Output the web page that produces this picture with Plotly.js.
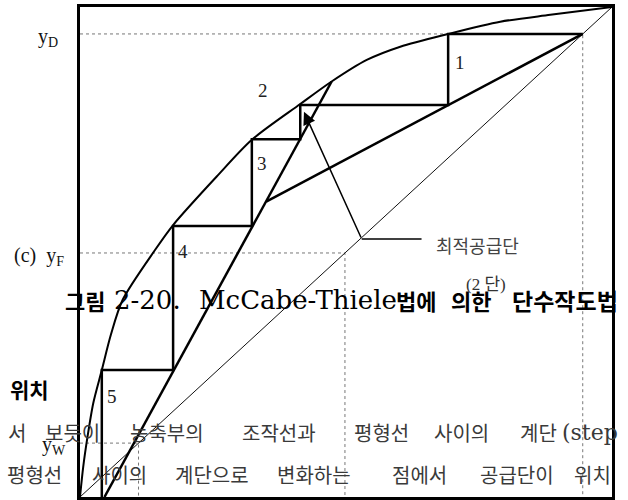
<!DOCTYPE html>
<html>
<head>
<meta charset="utf-8">
<script src="https://cdn.plot.ly/plotly-3.0.1.min.js"></script>
<style>
  html, body { margin: 0; padding: 0; background: #fff; }
  #chart { width: 628px; height: 500px; }
</style>
</head>
<body>
<div id="chart"></div>
<script>
// McCabe-Thiele diagram (mole fractions, 0..1 on both axes)

// equilibrium curve
const eqX = [0, 0.006, 0.014, 0.025, 0.041, 0.058, 0.080, 0.141, 0.175, 0.257, 0.323, 0.414, 0.473, 0.539, 0.602, 0.692, 0.790, 0.884, 1.0];
const eqY = [0, 0.061, 0.122, 0.192, 0.259, 0.331, 0.402, 0.504, 0.555, 0.654, 0.729, 0.802, 0.848, 0.892, 0.919, 0.945, 0.970, 0.984, 1.0];

// 45-degree line
const diagX = [0, 1];
const diagY = [0, 1];

// compositions
const xD = 0.945;
const xF = 0.498;
const xW = 0.110;

// operating lines
const rectX = [0.945, 0.350];
const rectY = [0.945, 0.603];
const stripX = [0.046, 0.473];
const stripY = [0.000, 0.848];

// stage construction (staircase)
const stepX = [0.945, 0.692, 0.692, 0.414, 0.414, 0.323, 0.323, 0.175, 0.175, 0.041, 0.041];
const stepY = [0.945, 0.945, 0.800, 0.800, 0.730, 0.730, 0.553, 0.553, 0.259, 0.259, 0.000];

// stage numbers
const stageLabels = ['1', '2', '3', '4', '5'];
const stageX = [0.714, 0.344, 0.342, 0.194, 0.060];
const stageY = [0.886, 0.829, 0.680, 0.502, 0.206];

// optimum feed stage pointer: tip, elbow, end of leader
const feedTip = [0.421, 0.786];
const leaderX = [0.5295, 0.642];
const leaderY = [0.5265, 0.5265];

// dotted guides to y_D, y_F, y_W
const guideX = [0, xD, xD, null, 0, xF, xF, null, 0, xW, xW];
const guideY = [xD, xD, 0, null, xF, xF, 0, null, xW, xW, 0];

// plot box in pixels
const L = 80, R = 612, T = 7, B = 497;
const px = v => (v - L) / (R - L);
const py = v => (B - v) / (B - T);

const SERIF = 'Liberation Serif, Noto Sans CJK KR, serif';
const WIDE_SERIF = 'DejaVu Serif, Liberation Serif, serif';
const HANGUL = 'Noto Sans CJK KR, sans-serif';

const traces = [
  { x: guideX, y: guideY, mode: 'lines', line: { color: '#777', width: 1, dash: 'dot' }, hoverinfo: 'skip' },
  { x: diagX, y: diagY, mode: 'lines', line: { color: '#111', width: 1 }, hoverinfo: 'skip' },
  { x: eqX, y: eqY, mode: 'lines', line: { color: '#000', width: 2, shape: 'spline', smoothing: 0.8 }, hoverinfo: 'skip' },
  { x: rectX, y: rectY, mode: 'lines', line: { color: '#000', width: 2.5 }, hoverinfo: 'skip' },
  { x: stripX, y: stripY, mode: 'lines', line: { color: '#000', width: 2.5 }, hoverinfo: 'skip' },
  { x: stepX, y: stepY, mode: 'lines', line: { color: '#000', width: 2.5 }, hoverinfo: 'skip' },
  { x: leaderX, y: leaderY, mode: 'lines', line: { color: '#000', width: 1.5 }, hoverinfo: 'skip' }
];

const annotations = [];

// stage numbers
stageLabels.forEach((t, i) => annotations.push({
  x: stageX[i], y: stageY[i], xref: 'x', yref: 'y', text: t, showarrow: false,
  font: { family: SERIF, size: 19, color: '#222' }
}));

// arrow to the optimum feed stage
annotations.push({
  x: feedTip[0], y: feedTip[1], ax: leaderX[0], ay: leaderY[0],
  xref: 'x', yref: 'y', axref: 'x', ayref: 'y', text: '', showarrow: true,
  arrowhead: 2, arrowsize: 1.7, arrowwidth: 1.5, arrowcolor: '#000', standoff: 0
});

function label(text, x, y, font) {
  annotations.push({
    x: px(x), y: py(y), xref: 'paper', yref: 'paper', text: text, showarrow: false,
    xanchor: 'left', yanchor: 'middle', font: font
  });
}

// axis labels
const axisLabelFont = { family: SERIF, size: 20, color: '#111' };
label('y<sub>D</sub>', 36, 38, axisLabelFont);
label('(c)  y<sub>F</sub>', 12, 256, axisLabelFont);
label('y<sub>W</sub>', 40, 445, axisLabelFont);

// feed stage caption
label('최적공급단', 434, 245, { family: HANGUL, size: 18, color: '#444' });
label('(2 단)', 464, 284, { family: SERIF, size: 17, color: '#333' });

// figure caption
const capHangul = { family: HANGUL, size: 22, color: '#000' };
const capLatin = { family: WIDE_SERIF, size: 26, color: '#000' };
label('<b>그림</b>', 63, 300, capHangul);
label('2-20.', 112, 300, capLatin);
label('McCabe-Thiele', 197, 300, capLatin);
label('<b>법에</b>', 394, 300, capHangul);
label('<b>의한</b>', 449, 300, capHangul);
label('<b>단수작도법</b>', 510, 300, { family: HANGUL, size: 23, color: '#000' });

// section heading and body text
label('<b>위치</b>', 8, 389, { family: HANGUL, size: 21, color: '#000' });

const bodyFont = { family: HANGUL, size: 20, color: '#3a3a3a' };
const bodyLatin = { family: WIDE_SERIF, size: 22, color: '#3a3a3a' };
const rowA = [['서', 6], ['보듯이', 43], ['농축부의', 128], ['조작선과', 240], ['평형선', 352], ['사이의', 432], ['계단', 518], ['(step', 560]];
const rowB = [['평형선', 5], ['사이의', 90], ['계단으로', 173], ['변화하는', 275], ['점에서', 390], ['공급단이', 478], ['위치', 572]];
rowA.forEach(w => label(w[0], w[1], 432, w[0].startsWith('(') ? bodyLatin : bodyFont));
rowB.forEach(w => label(w[0], w[1], 474, bodyFont));

const axisBase = {
  range: [0, 1], showgrid: false, zeroline: false, showticklabels: false, ticks: '',
  showline: true, mirror: true, linewidth: 3, linecolor: '#000', fixedrange: true
};

const layout = {
  width: 628, height: 500,
  margin: { l: L, r: 628 - R, t: T, b: 500 - B, pad: 0 },
  paper_bgcolor: '#fff', plot_bgcolor: '#fff',
  showlegend: false,
  xaxis: Object.assign({}, axisBase),
  yaxis: Object.assign({}, axisBase),
  annotations: annotations
};

Plotly.newPlot('chart', traces, layout, { displayModeBar: false, staticPlot: true });
</script>
</body>
</html>
